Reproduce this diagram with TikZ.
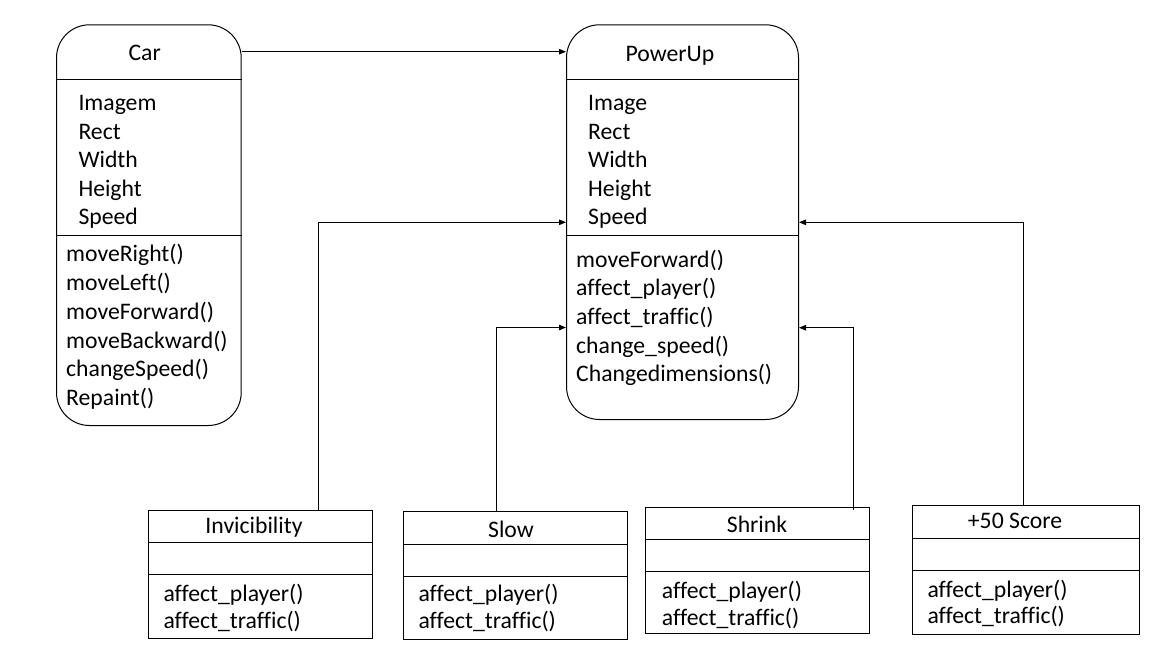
\documentclass[tikz,border=0pt]{standalone}
\usepackage{fontspec}
\setmainfont{Carlito}[Ligatures={NoCommon}]
\usetikzlibrary{arrows.meta}
\begin{document}
\begin{tikzpicture}[x=1pt,y=-1pt,
  box/.style={draw=black,line width=1pt,inner sep=0pt,anchor=north west},
  roundbox/.style={box,rounded corners=33pt},
  sep/.style={draw=black,line width=1pt},
  txt/.style={inner sep=0pt,font=\fontsize{23.7}{28.7}\selectfont,text=black},
  lft/.style={txt,anchor=base west},
  ttl/.style={txt,anchor=base},
  arr/.style={draw=black,line width=1pt,-{Triangle[length=7pt,width=5.5pt]}}
]
\useasboundingbox[fill=white] (0,0) rectangle (1158,645);

% ---------- Car ----------
\node[roundbox,minimum width=184.7pt,minimum height=400.7pt] (car) at (56,24.3) {};
\draw[sep] (car.west |- 0,79.7) -- (car.east |- 0,79.7);
\draw[sep] (car.west |- 0,235.5) -- (car.east |- 0,235.5);
\node[ttl] (car-t) at (144.7,60) {Car};
\node[lft] (car-a1) at (78.3,110.7) {Imagem};
\node[lft] (car-a2) at (78.3,139.2) {Rect};
\node[lft] (car-a3) at (78.3,167.8) {Width};
\node[lft] (car-a4) at (78.3,196.3) {Height};
\node[lft] (car-a5) at (78.3,224.8) {Speed};
\node[lft] (car-m1) at (66,261.9) {moveRight()};
\node[lft] (car-m2) at (66,290.6) {moveLeft()};
\node[lft] (car-m3) at (66,319.3) {moveForward()};
\node[lft] (car-m4) at (66,348) {moveBackward()};
\node[lft] (car-m5) at (66,376.7) {changeSpeed()};
\node[lft] (car-m6) at (66,405.4) {Repaint()};

% ---------- PowerUp ----------
\node[roundbox,minimum width=232pt,minimum height=394.7pt] (pu) at (566,24.3) {};
\draw[sep] (pu.west |- 0,79.7) -- (pu.east |- 0,79.7);
\draw[sep] (pu.west |- 0,235.5) -- (pu.east |- 0,235.5);
\node[ttl] (pu-t) at (670,61) {PowerUp};
\node[lft] (pu-a1) at (588,110.7) {Image};
\node[lft] (pu-a2) at (588,139.2) {Rect};
\node[lft] (pu-a3) at (588,167.8) {Width};
\node[lft] (pu-a4) at (588,196.3) {Height};
\node[lft] (pu-a5) at (588,224.8) {Speed};
\node[lft] (pu-m1) at (576,267) {moveForward()};
\node[lft] (pu-m2) at (576,295.7) {affect\_player()};
\node[lft] (pu-m3) at (576,324.4) {affect\_traffic()};
\node[lft] (pu-m4) at (576,353) {change\_speed()};
\node[lft] (pu-m5) at (576,381.7) {Changedimensions()};

% ---------- Invicibility ----------
\node[box,minimum width=223.7pt,minimum height=128pt] (inv) at (148.3,510) {};
\draw[sep] (inv.west |- 0,542.7) -- (inv.east |- 0,542.7);
\draw[sep] (inv.west |- 0,574) -- (inv.east |- 0,574);
\node[ttl] (inv-t) at (254,533) {Invicibility};
\node[lft] (inv-m1) at (163.3,601) {affect\_player()};
\node[lft] (inv-m2) at (163.3,628) {affect\_traffic()};

% ---------- Slow ----------
\node[box,minimum width=224pt,minimum height=128pt] (slow) at (403,511) {};
\draw[sep] (slow.west |- 0,544) -- (slow.east |- 0,544);
\draw[sep] (slow.west |- 0,576) -- (slow.east |- 0,576);
\node[ttl] (slow-t) at (511,537) {Slow};
\node[lft] (slow-m1) at (418.3,601) {affect\_player()};
\node[lft] (slow-m2) at (418.3,628) {affect\_traffic()};

% ---------- Shrink ----------
\node[box,minimum width=224pt,minimum height=126pt] (shr) at (645,507) {};
\draw[sep] (shr.west |- 0,539) -- (shr.east |- 0,539);
\draw[sep] (shr.west |- 0,571) -- (shr.east |- 0,571);
\node[ttl] (shr-t) at (757,532) {Shrink};
\node[lft] (shr-m1) at (661.7,598) {affect\_player()};
\node[lft] (shr-m2) at (661.7,625) {affect\_traffic()};

% ---------- +50 Score ----------
\node[box,minimum width=227pt,minimum height=129pt] (sc) at (912,505) {};
\draw[sep] (sc.west |- 0,538) -- (sc.east |- 0,538);
\draw[sep] (sc.west |- 0,570) -- (sc.east |- 0,570);
\node[ttl] (sc-t) at (1015,528) {+50 Score};
\node[lft] (sc-m1) at (927.3,597) {affect\_player()};
\node[lft] (sc-m2) at (927.3,623) {affect\_traffic()};

% ---------- connectors ----------
\draw[arr] (car.east |- 0,51.7) -- (pu.west |- 0,51.7);
\draw[arr] (inv.north -| 318,0) |- (pu.west |- 0,222.3);
\draw[arr] (slow.north -| 496.5,0) |- (pu.west |- 0,327.5);
\draw[arr] (shr.north -| 853,0) ++(0,3) |- (pu.east |- 0,327.7);
\draw[arr] (sc.north -| 1023,0) |- (pu.east |- 0,222.3);
\end{tikzpicture}
\end{document}
